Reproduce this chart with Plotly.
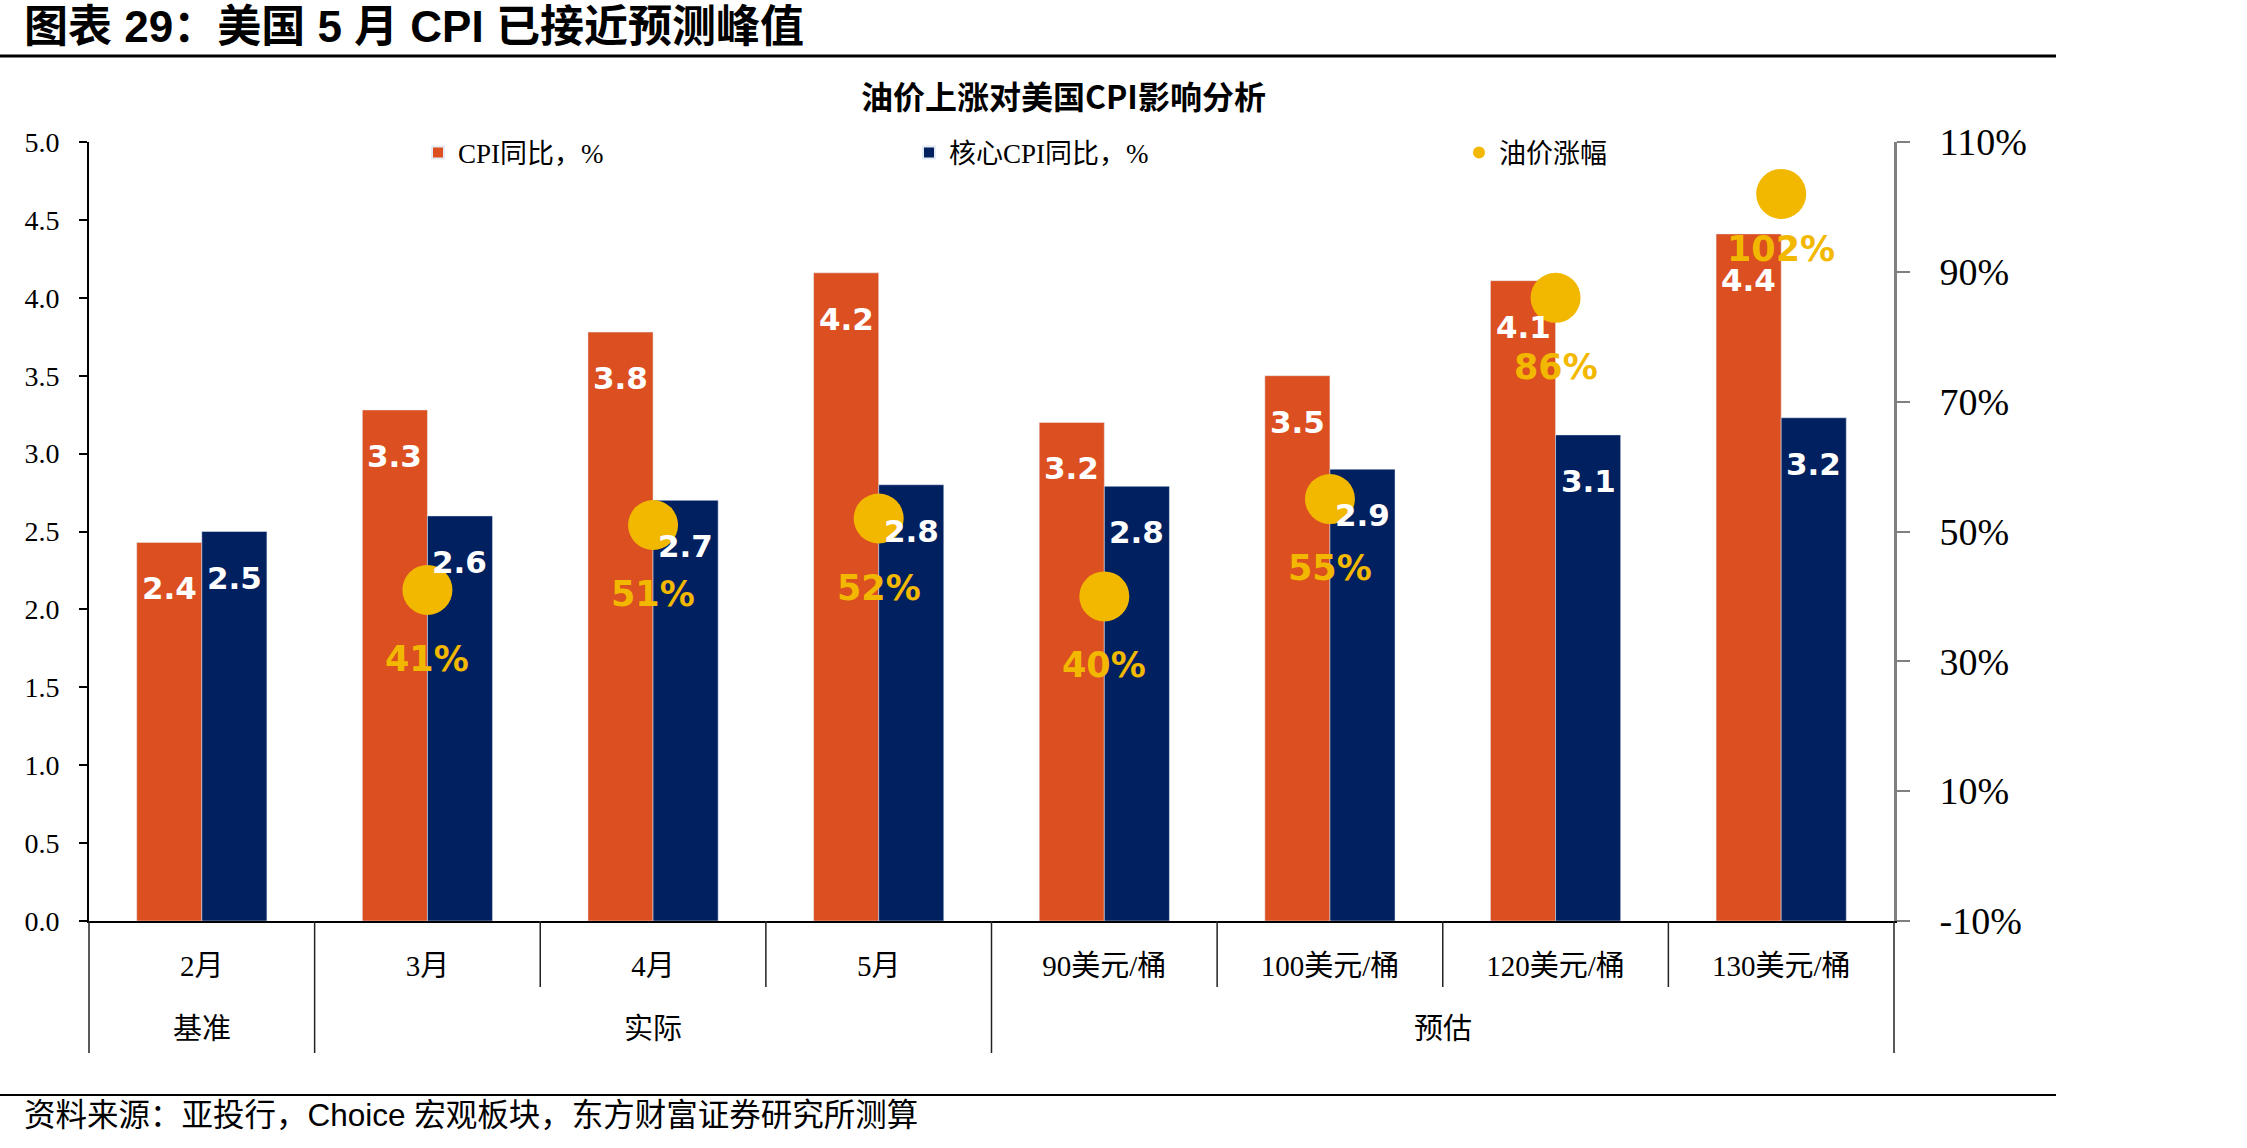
import plotly.graph_objects as go

# ---------------- data ----------------
categories = ["2月", "3月", "4月", "5月", "90美元/桶", "100美元/桶", "120美元/桶", "130美元/桶"]
groups = ["基准", "实际", "预估"]
group_spans = [(0, 0), (1, 3), (4, 7)]
cpi_yoy = [2.43, 3.28, 3.78, 4.16, 3.20, 3.50, 4.11, 4.41]
core_cpi_yoy = [2.50, 2.60, 2.70, 2.80, 2.79, 2.90, 3.12, 3.23]
oil_rise = [None, 41, 51, 52, 40, 55, 86, 102]
y2_tickvals = [-10, 10, 30, 50, 70, 90, 110]
y2_ticklabels = ["-10%", "10%", "30%", "50%", "70%", "90%", "110%"]

title_text = "图表 29：美国 5 月 CPI 已接近预测峰值"
subtitle_text = "油价上涨对美国CPI影响分析"
source_text = "资料来源：亚投行，Choice 宏观板块，东方财富证券研究所测算"

# ---------------- styling ----------------
W, H = 2247, 1148
L, R, T, B = 89, 353, 142, 227
PW, PH = W - L - R, H - T - B
BARGAP = 0.423
ORANGE = "#DC4F20"
NAVY = "#002060"
GOLD = "#F2B800"
SERIF = "Liberation Serif, Times New Roman, Noto Sans CJK SC"
CJK_SERIF = "Liberation Serif, Noto Sans CJK SC"
BOLD_SANS = "DejaVu Sans, Verdana, sans-serif"


def px2x(px):
    return (px - L) / PW


def py2y(py):
    return (H - B - py) / PH


n = len(categories)
cat_px = PW / n
half_bar = cat_px * (1 - BARGAP) / 4

fig = go.Figure()
fig.add_trace(go.Bar(
    x=categories, y=cpi_yoy, name="CPI同比，%", marker_color=ORANGE,
    offsetgroup="a", legend="legend", hoverinfo="skip"))
fig.add_trace(go.Bar(
    x=categories, y=core_cpi_yoy, name="核心CPI同比，%", marker_color=NAVY,
    offsetgroup="b", legend="legend2", hoverinfo="skip"))
fig.add_trace(go.Scatter(
    x=categories, y=oil_rise, name="油价涨幅", mode="markers", yaxis="y2",
    marker=dict(color=GOLD, size=50), legend="legend3", hoverinfo="skip"))

annotations = []
# bar value labels
for c, v in zip(categories, cpi_yoy):
    annotations.append(dict(x=c, y=v, xref="x", yref="y", text=f"{v:.1f}",
                            showarrow=False, xshift=-half_bar, yshift=-46,
                            font=dict(family=BOLD_SANS, size=31, color="white", weight="bold")))
for c, v in zip(categories, core_cpi_yoy):
    annotations.append(dict(x=c, y=v, xref="x", yref="y", text=f"{v:.1f}",
                            showarrow=False, xshift=half_bar, yshift=-46,
                            font=dict(family=BOLD_SANS, size=31, color="white", weight="bold")))
# oil labels
for c, v in zip(categories, oil_rise):
    if v is None:
        continue
    shift = -55 if v >= 100 else -69
    annotations.append(dict(x=c, y=v, xref="x", yref="y2", text=f"{v:.0f}%",
                            showarrow=False, yshift=shift,
                            font=dict(family=BOLD_SANS, size=35, color=GOLD, weight="bold")))

# titles
annotations.append(dict(x=px2x(22), y=py2y(27), xref="paper", yref="paper", text=title_text,
                        showarrow=False, xanchor="left", yanchor="middle",
                        font=dict(family="Liberation Sans, Noto Sans CJK SC", size=44, color="black", weight="bold")))
annotations.append(dict(x=px2x(1063), y=py2y(95), xref="paper", yref="paper", text=subtitle_text,
                        showarrow=False, xanchor="center", yanchor="middle",
                        font=dict(family="Noto Sans CJK SC", size=32, color="black", weight="bold")))
annotations.append(dict(x=px2x(22), y=py2y(1115), xref="paper", yref="paper", text=source_text,
                        showarrow=False, xanchor="left", yanchor="middle",
                        font=dict(family="Liberation Sans, Noto Sans CJK SC", size=31.5, color="black")))

# group labels
for g, (a, b) in zip(groups, group_spans):
    annotations.append(dict(x=((a + b) / 2 + 0.5) / n, y=py2y(1029), xref="paper", yref="paper",
                            text=g, showarrow=False, xanchor="center", yanchor="middle",
                            font=dict(family=CJK_SERIF, size=29, color="black")))

shapes = []
# title underline and source line
shapes.append(dict(type="line", xref="paper", yref="paper", x0=px2x(0), x1=px2x(2056),
                   y0=py2y(56), y1=py2y(56), line=dict(color="black", width=3)))
shapes.append(dict(type="line", xref="paper", yref="paper", x0=px2x(0), x1=px2x(2056),
                   y0=py2y(1095), y1=py2y(1095), line=dict(color="black", width=2)))
# category separators
group_bounds = {-0.5} | {b + 0.5 for (_, b) in group_spans}
for i in range(n + 1):
    pos = i - 0.5
    bottom = 1053 if pos in group_bounds else 987
    shapes.append(dict(type="line", xref="paper", yref="paper",
                       x0=(pos + 0.5) / n, x1=(pos + 0.5) / n, y0=0, y1=py2y(bottom),
                       line=dict(color="#222222", width=1.5)))

legend_common = dict(orientation="h", yanchor="middle", y=py2y(153), xanchor="left",
                     bgcolor="rgba(0,0,0,0)", font=dict(family=CJK_SERIF, size=27, color="black"),
                     itemsizing="constant")

fig.update_layout(
    width=W, height=H,
    margin=dict(l=L, r=R, t=T, b=B),
    paper_bgcolor="white", plot_bgcolor="white",
    barmode="group", bargap=BARGAP, bargroupgap=0,
    showlegend=True,
    legend=dict(legend_common, x=px2x(418)),
    legend2=dict(legend_common, x=px2x(909)),
    legend3=dict(legend_common, x=px2x(1459)),
    xaxis=dict(type="category", range=[-0.5, n - 0.5], showline=True, linecolor="black", linewidth=2,
               ticks="", showgrid=False, zeroline=False, ticklabelstandoff=18,
               tickfont=dict(family=CJK_SERIF, size=29, color="black")),
    yaxis=dict(range=[0, 5], dtick=0.5, tickformat=".1f", showline=True, linecolor="black", linewidth=2,
               ticks="outside", ticklen=8, tickwidth=2, tickcolor="black", showgrid=False, zeroline=False,
               ticklabelstandoff=14, tickfont=dict(family=SERIF, size=28, color="black")),
    yaxis2=dict(range=[-10, 110], tickmode="array", tickvals=y2_tickvals, ticktext=y2_ticklabels,
                overlaying="y", side="right",
                showline=True, linecolor="#808080", linewidth=3, ticks="outside", ticklen=13,
                tickwidth=2, tickcolor="#808080", showgrid=False, zeroline=False,
                ticklabelstandoff=22, tickfont=dict(family=SERIF, size=38, color="black")),
    annotations=annotations,
    shapes=shapes,
)

fig.write_html("out.html")
